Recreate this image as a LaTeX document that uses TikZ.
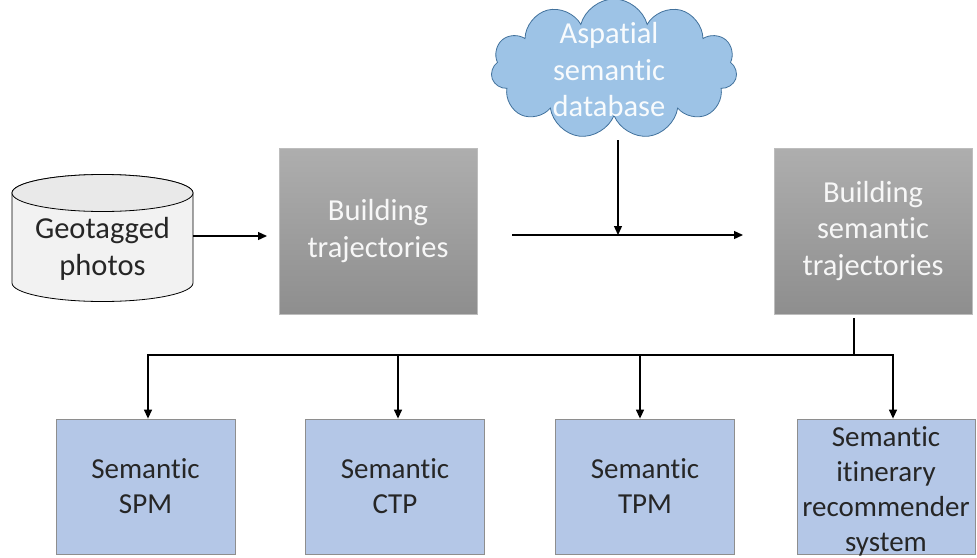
\documentclass[tikz,border=0pt]{standalone}
\usepackage{fontspec}
\setmainfont{Carlito}[Ligatures=NoCommon]
\usetikzlibrary{shapes.symbols,arrows.meta}
\definecolor{boxtop}{HTML}{AEAEAE}
\definecolor{boxbot}{HTML}{8E8E8E}
\definecolor{boxedge}{HTML}{BDBDBD}
\definecolor{lightblue}{HTML}{B4C7E7}
\definecolor{blueedge}{HTML}{8E8E8E}
\definecolor{cloudfill}{HTML}{9DC3E6}
\definecolor{cloudedge}{HTML}{41719C}
\definecolor{cylfill}{HTML}{F2F2F2}
\definecolor{cyltop}{HTML}{E9E9E9}
\definecolor{darktext}{HTML}{262626}
\tikzset{
  txt/.style={font=\fontsize{29}{35}\selectfont, align=center},
  bigtxt/.style={font=\fontsize{30.5}{36.5}\selectfont, align=center},
  graybox/.style={bigtxt, rectangle, draw=boxedge, line width=0.8pt,
    top color=boxtop, bottom color=boxbot, text=white!94!gray,
    minimum width=198, minimum height=166, inner sep=0pt},
  bluebox/.style={txt, rectangle, draw=blueedge, line width=0.8pt,
    fill=lightblue, text=darktext, minimum width=179, minimum height=135, inner sep=0pt},
  conn/.style={line width=1.3pt, draw=black},
  arr/.style={conn, -{Triangle[length=9pt,width=8pt]}}
}
\begin{document}
\begin{tikzpicture}[x=1pt,y=-1pt]
\useasboundingbox (0,0) rectangle (977,557);

% database cylinder
\node[minimum width=181, minimum height=127, inner sep=0pt] (geo) at (102.5,238) {};
\draw[line width=0.8pt, fill=cylfill]
  (12,193) -- (12,283) arc[start angle=180, end angle=0, x radius=90.5, y radius=18.5]
  -- (193,193) arc[start angle=0, end angle=-180, x radius=90.5, y radius=18.5] -- cycle;
\draw[line width=0.8pt, fill=cyltop] (102.5,193) ellipse[x radius=90.5, y radius=18.5];
\node[bigtxt, text=darktext] at (102.5,249) {Geotagged\\photos};

% processing steps
\node[graybox] (traj) at (378,231) {Building\\trajectories};
\node[graybox] (semtraj) at (873,231) {Building\\semantic\\trajectories};

% external knowledge source
\node[cloud, cloud puffs=11, cloud ignores aspect, draw=cloudedge, line width=0.8pt,
  fill=cloudfill, minimum width=246, minimum height=140, inner sep=0pt] (cloud) at (614,69) {};
\node[bigtxt, text=white!93!cloudfill] at (609,70) {Aspatial\\semantic\\database};

% outputs
\node[bluebox] (spm) at (145.5,486.5) {Semantic\\SPM};
\node[bluebox] (ctp) at (395,486.5) {Semantic\\CTP};
\node[bluebox] (tpm) at (645,486.5) {Semantic\\TPM};
\node[bluebox, minimum width=178] (rec) at (886,486.5) {};
\node[txt, text=darktext] at (886,491) {Semantic\\itinerary\\recommender\\system};

% connectors
\coordinate (s1) at (512,235);
\coordinate (join) at (618,235);
\coordinate (bus) at (854,355);
\draw[arr] (geo.east |- 0,236) -- (267,236);
\draw[arr] (s1) -- (743,235);
\draw[arr] (618,140) -- (join);
\draw[conn] (854,318) -- (bus);
\draw[arr] (bus) -| ([xshift=2.5pt]spm.north);
\draw[arr] (bus) -| ([xshift=3pt]ctp.north);
\draw[arr] (bus) -| ([xshift=-5pt]tpm.north);
\draw[arr] (bus) -| ([xshift=7pt]rec.north);
\end{tikzpicture}
\end{document}
